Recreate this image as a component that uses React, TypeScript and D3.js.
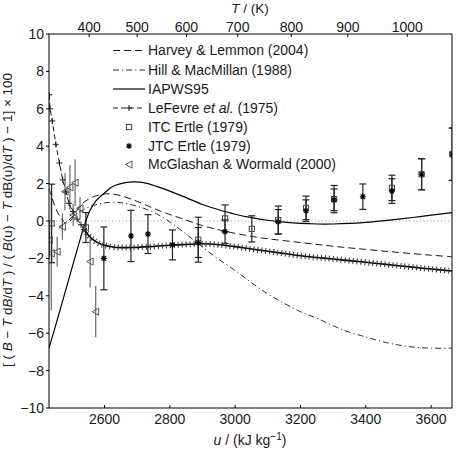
import React from 'react';
import * as d3 from 'd3';

const W = 465;
const H = 454;
const plot = { left: 49, right: 452, top: 34, bottom: 408 };

// axis ticks
const yTicks = [-10, -8, -6, -4, -2, 0, 2, 4, 6, 8, 10];
const uTicks = [2600, 2800, 3000, 3200, 3400, 3600];
const tempTicks = [400, 500, 600, 700, 800, 900, 1000];
// internal energy (kJ/kg) at which each temperature tick sits
const tempTickU = [2553, 2700, 2851, 3008, 3172, 3345, 3527];

// correlations: [u, deviation]
const harveyLemmon: [number, number][] = [
  [2430, 1.75], [2440, 1.2], [2450, 0.7], [2465, 0.2], [2480, -0.1], [2495, 0.0],
  [2510, 0.4], [2530, 0.9], [2560, 1.25], [2590, 1.42], [2620, 1.45], [2650, 1.35],
  [2700, 1.05], [2750, 0.68], [2790, 0.41], [2850, 0.05], [2900, -0.25], [2950, -0.47],
  [3000, -0.66], [3050, -0.82], [3100, -0.95], [3200, -1.15], [3300, -1.35],
  [3400, -1.52], [3500, -1.68], [3600, -1.83], [3664, -1.91],
];

const hillMacMillan: [number, number][] = [
  [2460, -0.4], [2490, 0.05], [2520, 0.45], [2560, 0.8], [2600, 0.97], [2640, 1.0],
  [2680, 0.88], [2720, 0.68], [2760, 0.38], [2800, -0.05], [2850, -0.7], [2900, -1.4],
  [2950, -2.05], [3000, -2.65], [3050, -3.3], [3100, -3.9], [3150, -4.4], [3200, -4.85],
  [3250, -5.2], [3300, -5.6], [3350, -5.95], [3400, -6.2], [3450, -6.45], [3500, -6.63],
  [3550, -6.75], [3600, -6.8], [3664, -6.8],
];

const iapws95: [number, number][] = [
  [2430, -6.8], [2460, -5.0], [2490, -3.15], [2520, -1.3], [2540, -0.15], [2555, 0.55],
  [2575, 1.1], [2600, 1.5], [2625, 1.85], [2650, 2.0], [2686, 2.09], [2720, 2.05],
  [2760, 1.85], [2800, 1.6], [2850, 1.25], [2900, 0.88], [2950, 0.6], [3000, 0.36],
  [3050, 0.18], [3100, 0.04], [3150, -0.06], [3200, -0.13], [3250, -0.16], [3300, -0.16],
  [3350, -0.13], [3400, -0.07], [3450, 0.01], [3500, 0.1], [3550, 0.2], [3600, 0.31],
  [3664, 0.45],
];

// LeFevre et al.: sparse points at low u, then a dense run
const leFevreLow: [number, number][] = [
  [2431, 6.75], [2433, 6.0], [2440, 5.35], [2451, 4.1], [2462, 3.1], [2472, 2.2],
  [2482, 1.55], [2491, 0.95], [2503, 0.5], [2516, 0.1], [2528, -0.2], [2537, -0.45],
];
const leFevreHigh: [number, number][] = [
  [2537, -0.45], [2550, -0.75], [2565, -1.0], [2580, -1.17], [2600, -1.3], [2630, -1.4],
  [2680, -1.42], [2750, -1.36], [2800, -1.3], [2850, -1.25], [2900, -1.22], [2950, -1.27],
  [3000, -1.37], [3050, -1.5], [3100, -1.62], [3150, -1.74], [3200, -1.86], [3250, -1.95],
  [3300, -2.03], [3350, -2.12], [3400, -2.21], [3450, -2.3], [3500, -2.39], [3550, -2.48],
  [3600, -2.57], [3664, -2.67],
];

// measurements: [u, deviation, uncertainty]
const itcErtle: [number, number, number][] = [
  [2438, -0.13, 2.1], [2543, -0.35, 0.8], [2887, -1.0, 1.2], [2969, 0.14, 0.72],
  [3051, -0.42, 0.7], [3132, 0.05, 0.75], [3217, 0.7, 0.63], [3303, 1.17, 0.73],
  [3480, 1.77, 0.68], [3571, 2.5, 0.83], [3665, 3.57, 1.4],
];
const jtcErtle: [number, number, number][] = [
  [2598, -2.0, 1.68], [2681, -0.8, 1.37], [2733, -0.7, 1.04], [2808, -1.28, 0.8],
  [2887, -1.15, 0.8], [2969, -0.57, 0.63], [3132, -0.04, 0.65], [3217, 0.55, 0.58],
  [3303, 1.13, 0.58], [3391, 1.3, 0.68], [3480, 1.6, 0.66], [3571, 2.5, 0.83],
  [3665, 3.57, 1.4],
];
const mcGlashan: [number, number, number][] = [
  [2431, -1.02, 1.0], [2437, -1.73, 3.05], [2455, -1.64, 0.8], [2471, -0.3, 0.7],
  [2479, 1.57, 1.0], [2494, 1.8, 1.2], [2510, 2.05, 1.25], [2504, 0.32, 0.6],
  [2525, 0.68, 0.6], [2556, -2.17, 1.38], [2573, -4.85, 1.37],
];

const x = d3.scaleLinear().domain([2430, 3664]).range([plot.left, plot.right]);
const y = d3.scaleLinear().domain([-10, 10]).range([plot.bottom, plot.top]);

const line = d3
  .line<[number, number]>()
  .x((d) => x(d[0]))
  .y((d) => y(d[1]))
  .curve(d3.curveCatmullRom.alpha(0.5));

const straight = d3
  .line<[number, number]>()
  .x((d) => x(d[0]))
  .y((d) => y(d[1]));

const FONT = "'Liberation Sans', Arial, sans-serif";
const INK = '#1a1a1a';

const Plus = ({ cx, cy }: { cx: number; cy: number }) => (
  <path d={`M${cx - 3},${cy}H${cx + 3}M${cx},${cy - 3}V${cy + 3}`} stroke={INK} strokeWidth={1} />
);
const Square = ({ cx, cy }: { cx: number; cy: number }) => (
  <rect x={cx - 2.6} y={cy - 2.6} width={5.2} height={5.2} fill="none" stroke="#444" strokeWidth={1} />
);
const Star = ({ cx, cy }: { cx: number; cy: number }) => (
  <path
    d={`M${cx - 3},${cy}H${cx + 3}M${cx},${cy - 3}V${cy + 3}M${cx - 2.2},${cy - 2.2}L${cx + 2.2},${cy + 2.2}M${cx - 2.2},${cy + 2.2}L${cx + 2.2},${cy - 2.2}`}
    stroke="#000"
    strokeWidth={1.1}
  />
);
const LeftTri = ({ cx, cy }: { cx: number; cy: number }) => (
  <path d={`M${cx - 3.5},${cy}L${cx + 3},${cy - 3.6}L${cx + 3},${cy + 3.6}Z`} fill="none" stroke="#555" strokeWidth={1} />
);

const ErrBar = ({ u, v, e, color, cap }: { u: number; v: number; e: number; color: string; cap: boolean }) => {
  const cx = x(u);
  const y1 = y(v + e);
  const y2 = y(v - e);
  return (
    <g stroke={color} strokeWidth={1.2}>
      <line x1={cx} x2={cx} y1={y1} y2={y2} />
      {cap && <line x1={cx - 3.5} x2={cx + 3.5} y1={y1} y2={y1} />}
      {cap && <line x1={cx - 3.5} x2={cx + 3.5} y1={y2} y2={y2} />}
    </g>
  );
};

const legendRows = [50.5, 70, 89, 108, 127, 146, 164.5];
const lgX0 = 113;
const lgX1 = 145;
const lgText = 148;
const lgMid = 129;

export default function App() {
  const fs = 14;
  return (
    <svg
      width={W}
      height={H}
      viewBox={`0 0 ${W} ${H}`}
      style={{ position: 'absolute', left: 0, top: 0, background: '#fff' }}
      fontFamily={FONT}
    >
      <defs>
        <clipPath id="plotClip">
          <rect x={plot.left} y={plot.top} width={plot.right - plot.left} height={plot.bottom - plot.top} />
        </clipPath>
      </defs>
      <rect x={0} y={0} width={W} height={H} fill="#fff" />

      {/* zero reference */}
      <line
        x1={plot.left}
        x2={plot.right}
        y1={y(0)}
        y2={y(0)}
        stroke="#999"
        strokeWidth={1}
        strokeDasharray="1 2.5"
      />

      <g clipPath="url(#plotClip)" fill="none">
        {/* error bars */}
        {mcGlashan.map(([u, v, e], i) => (
          <ErrBar key={`m${i}`} u={u} v={v} e={e} color="#6a6a6a" cap={false} />
        ))}
        {itcErtle.map(([u, v, e], i) => (
          <ErrBar key={`i${i}`} u={u} v={v} e={e} color="#222" cap={true} />
        ))}
        {jtcErtle.map(([u, v, e], i) => (
          <ErrBar key={`j${i}`} u={u} v={v} e={e} color="#222" cap={true} />
        ))}

        {/* correlations */}
        <path d={line(harveyLemmon) || ''} stroke={INK} strokeWidth={1} strokeDasharray="7 4" />
        <path d={line(hillMacMillan) || ''} stroke={INK} strokeWidth={0.9} strokeDasharray="6 3 1.2 3" />
        <path d={line(iapws95) || ''} stroke="#000" strokeWidth={1.2} />

        {/* LeFevre et al. */}
        <path d={straight(leFevreLow) || ''} stroke={INK} strokeWidth={1} strokeDasharray="5 3" />
        {leFevreLow.map(([u, v], i) => (
          <Plus key={`lf${i}`} cx={x(u)} cy={y(v)} />
        ))}
        <path d={line(leFevreHigh) || ''} stroke="#000" strokeWidth={1.6} />
        <path d={line(leFevreHigh) || ''} stroke="#333" strokeWidth={6} strokeDasharray="1 3" />

        {/* markers */}
        {mcGlashan.map(([u, v], i) => (
          <LeftTri key={`mt${i}`} cx={x(u)} cy={y(v)} />
        ))}
        {itcErtle.map(([u, v], i) => (
          <Square key={`is${i}`} cx={x(u)} cy={y(v)} />
        ))}
        {jtcErtle.map(([u, v], i) => (
          <Star key={`js${i}`} cx={x(u)} cy={y(v)} />
        ))}
      </g>

      {/* frame */}
      <rect
        x={plot.left}
        y={plot.top}
        width={plot.right - plot.left}
        height={plot.bottom - plot.top}
        fill="none"
        stroke="#000"
        strokeWidth={1}
      />

      {/* left axis */}
      {yTicks.map((t) => (
        <g key={`y${t}`}>
          <line x1={plot.left - 3} x2={plot.left} y1={y(t)} y2={y(t)} stroke="#000" />
          <text x={plot.left - 5} y={y(t)} dy="0.35em" textAnchor="end" fontSize={fs} fill={INK}>
            {t < 0 ? `\u2212${Math.abs(t)}` : `${t}`}
          </text>
        </g>
      ))}

      {/* bottom axis */}
      {uTicks.map((t) => (
        <g key={`u${t}`}>
          <line x1={x(t)} x2={x(t)} y1={plot.bottom} y2={plot.bottom - 3} stroke="#000" />
          <text x={x(t)} y={424} textAnchor="middle" fontSize={fs} fill={INK}>
            {t}
          </text>
        </g>
      ))}

      {/* top temperature axis */}
      {tempTicks.map((t, i) => (
        <g key={`t${t}`}>
          <line x1={x(tempTickU[i])} x2={x(tempTickU[i])} y1={plot.top} y2={plot.top + 3} stroke="#000" />
          <text x={x(tempTickU[i])} y={32} textAnchor="middle" fontSize={fs} fill={INK}>
            {t}
          </text>
        </g>
      ))}

      {/* axis titles */}
      <text x={250} y={12.5} textAnchor="middle" fontSize={13.5} fill={INK}>
        <tspan fontStyle="italic">T</tspan> / (K)
      </text>
      <text x={250} y={445} textAnchor="middle" fontSize={fs} fill={INK}>
        <tspan fontStyle="italic">u</tspan> / (kJ kg
        <tspan dy={-5} fontSize={10}>
          {'\u22121'}
        </tspan>
        <tspan dy={5}>)</tspan>
      </text>
      <text
        transform="translate(12,220) rotate(-90)"
        textAnchor="middle"
        fontSize={13.5}
        fill={INK}
      >
        {'[ ( '}
        <tspan fontStyle="italic">B</tspan>
        {' \u2212 '}
        <tspan fontStyle="italic">T</tspan>
        {' d'}
        <tspan fontStyle="italic">B</tspan>
        {'/d'}
        <tspan fontStyle="italic">T</tspan>
        {' ) / ( '}
        <tspan fontStyle="italic">B</tspan>
        {'(u) \u2212 '}
        <tspan fontStyle="italic">T</tspan>
        {' dB(u)/d'}
        <tspan fontStyle="italic">T</tspan>
        {' ) \u2212 1] \u00d7 100'}
      </text>

      {/* legend */}
      <g fontSize={fs} fill={INK}>
        <line x1={lgX0} x2={lgX1} y1={legendRows[0]} y2={legendRows[0]} stroke={INK} strokeDasharray="7 4" />
        <text x={lgText} y={legendRows[0]} dy="0.35em">Harvey &amp; Lemmon (2004)</text>

        <line x1={lgX0} x2={lgX1} y1={legendRows[1]} y2={legendRows[1]} stroke={INK} strokeWidth={0.9} strokeDasharray="6 3 1.2 3" />
        <text x={lgText} y={legendRows[1]} dy="0.35em">Hill &amp; MacMillan (1988)</text>

        <line x1={lgX0} x2={lgX1} y1={legendRows[2]} y2={legendRows[2]} stroke="#000" strokeWidth={1.2} />
        <text x={lgText} y={legendRows[2]} dy="0.35em">IAPWS95</text>

        <line x1={lgX0} x2={lgX1} y1={legendRows[3]} y2={legendRows[3]} stroke={INK} strokeDasharray="5 3" />
        <Plus cx={lgMid} cy={legendRows[3]} />
        <text x={lgText} y={legendRows[3]} dy="0.35em">
          LeFevre <tspan fontStyle="italic">et al.</tspan> (1975)
        </text>

        <Square cx={lgMid} cy={legendRows[4]} />
        <text x={lgText} y={legendRows[4]} dy="0.35em">ITC Ertle (1979)</text>

        <Star cx={lgMid} cy={legendRows[5]} />
        <text x={lgText} y={legendRows[5]} dy="0.35em">JTC Ertle (1979)</text>

        <LeftTri cx={lgMid} cy={legendRows[6]} />
        <text x={lgText} y={legendRows[6]} dy="0.35em">McGlashan &amp; Wormald (2000)</text>
      </g>
    </svg>
  );
}
